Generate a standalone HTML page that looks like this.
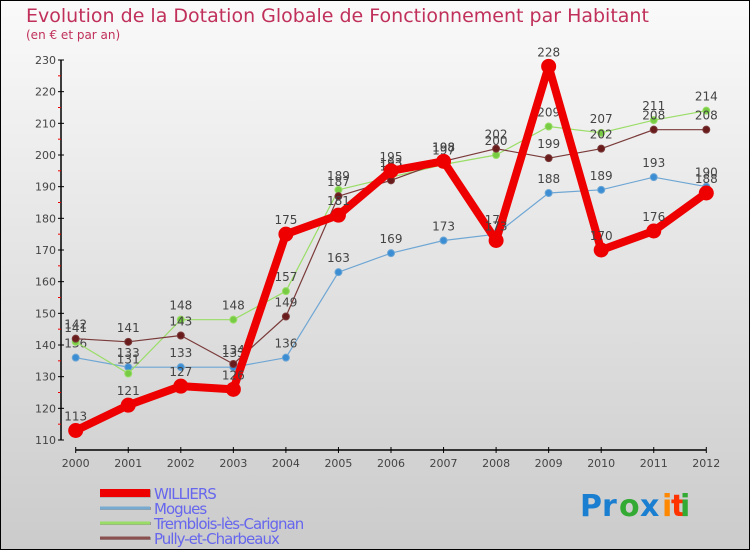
<!DOCTYPE html>
<html><head><meta charset="utf-8"><style>
body{margin:0}
#c{width:750px;height:550px;position:relative;font-family:"DejaVu Sans","Liberation Sans",sans-serif;}
</style></head><body>
<div id="c">
<svg id="s" width="750" height="550" xmlns="http://www.w3.org/2000/svg">
<defs><linearGradient id="bg" x1="0" y1="0" x2="0" y2="1"><stop offset="0" stop-color="#fafafa"/><stop offset="1" stop-color="#cbcbcb"/></linearGradient></defs>
<rect x="0.5" y="0.5" width="749" height="549" fill="url(#bg)" stroke="#000"/>
<text x="26" y="22" font-size="19" fill="#c0305a">Evolution de la Dotation Globale de Fonctionnement par Habitant</text>
<text x="26" y="39" font-size="12" fill="#c0305a">(en € et par an)</text>
<g id="axes"></g><g id="series"></g><g id="legend"></g>
<g font-size="30" font-weight="bold" font-family="'DejaVu Sans',sans-serif">
<text x="580" y="516" fill="#1a7fd0">Pr</text><text x="619" y="516" fill="#33aa33">o</text><text x="640" y="516" fill="#1a7fd0">x</text><text x="662" y="516" fill="#ff8800">i</text><text x="671" y="516" fill="#ff3300">t</text><text x="680" y="516" fill="#33aa33">i</text>
</g>
</svg>
</div>
<script>
const years=[2000,2001,2002,2003,2004,2005,2006,2007,2008,2009,2010,2011,2012];
const williers=[113,121,127,126,175,181,195,198,173,228,170,176,188];
const mogues=[136,133,133,133,136,163,169,173,175,188,189,193,190];
const tremblois=[141,131,148,148,157,189,193,197,200,209,207,211,214];
const pully=[142,141,143,134,149,187,192,198,202,199,202,208,208];
const yTicks=[110,120,130,140,150,160,170,180,190,200,210,220,230];
const NS="http://www.w3.org/2000/svg";
function X(i){return 75.7+i*52.55;}
function Y(v){return 440-(v-110)*3.1667;}
function mk(t,a,p){const e=document.createElementNS(NS,t);for(const k in a)e.setAttribute(k,a[k]);p.appendChild(e);return e;}
const ax=document.getElementById('axes');
const yl=mk('line',{x1:61,y1:Y(230),x2:61,y2:Y(110),stroke:'#000','stroke-width':1.5},ax);


const xl=mk('line',{x1:X(0),y1:450,x2:X(12),y2:450,stroke:'#000','stroke-width':1.5},ax);


yTicks.forEach(v=>{
 mk('line',{x1:58,y1:Y(v),x2:64,y2:Y(v),stroke:'#000'},ax);
 if(v<230) mk('line',{x1:58,y1:Y(v+5),x2:61,y2:Y(v+5),stroke:'#e00'},ax);
 const t=mk('text',{x:56,y:Y(v)+4,'text-anchor':'end','font-size':11,fill:'#444'},ax);t.textContent=v;
 
 
});
years.forEach((y,i)=>{
 mk('line',{x1:X(i),y1:447,x2:X(i),y2:453,stroke:'#000'},ax);
 const t=mk('text',{x:X(i),y:467,'text-anchor':'middle','font-size':11,fill:'#444'},ax);t.textContent=y;
 
 
});
const sg=document.getElementById('series');
function series(name,data,color,w,r,dot){
 const g=mk('g',{},sg);
 
 
 mk('polyline',{points:data.map((v,i)=>X(i)+','+Y(v)).join(' '),fill:'none',stroke:color,'stroke-width':w,'stroke-linejoin':'round'},g);
 data.forEach((v,i)=>{
  const c=mk('circle',{cx:X(i),cy:Y(v),r:r,fill:dot,stroke:color,'stroke-width':1},g);
  
  
  const t=mk('text',{x:X(i),y:Y(v)-10,'text-anchor':'middle','font-size':12,fill:'#444'},g);t.textContent=v;
  
  
 });
}
series('mogues',mogues,'#6ea6d4',1.2,3.5,'#3b8ed4');
series('tremblois',tremblois,'#99dd66',1.2,3.5,'#77cc44');
series('pully',pully,'#7a3a3a',1.2,3.5,'#6a1c1c');
series('williers',williers,'#ee0000',8,7,'#ee0000');
const lg=document.getElementById('legend');
const items=[['WILLIERS','#ee0000',8],['Mogues','#77aad0',3],['Tremblois-lès-Carignan','#99dd66',3],['Pully-et-Charbeaux','#8a5050',3]];
items.forEach((it,k)=>{
 const yy=493+k*15;
 const g=mk('g',{},lg);
 
 
 mk('line',{x1:100,y1:yy+0.5,x2:151,y2:yy+0.5,stroke:'#999','stroke-width':it[2]},g);
 mk('line',{x1:100,y1:yy,x2:150,y2:yy,stroke:it[1],'stroke-width':it[2]},g);
 const t=mk('text',{x:154,y:yy+6,'font-size':15,fill:'#6666ee','letter-spacing':'-1'},g);t.textContent=it[0];
});
</script>
</body></html>
